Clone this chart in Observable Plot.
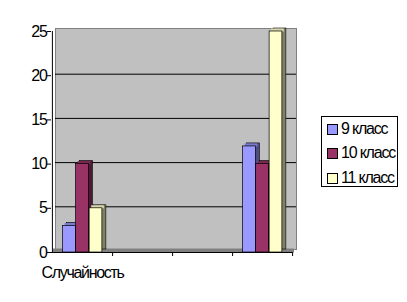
<!DOCTYPE html>
<html><head><meta charset="utf-8">
<script src="https://cdn.jsdelivr.net/npm/d3@7"></script>
<script src="https://cdn.jsdelivr.net/npm/@observablehq/plot@0.6"></script>
<style>
body{margin:0;background:#fff;}
#wrap{position:relative;width:407px;height:302px;font-family:"Liberation Sans",Arial,sans-serif;}
#legend{position:absolute;left:321px;top:116px;width:77px;height:71px;border:1px solid #000;box-sizing:border-box;background:#fff;}
.item{position:absolute;left:5px;font-size:16px;letter-spacing:-1.2px;line-height:16px;color:#000;}
.sw{position:absolute;left:0;top:3px;width:9px;height:9px;border:1px solid #000;}
.item span.t{position:absolute;left:14px;top:0;white-space:nowrap;}
</style></head>
<body><div id="wrap"><div id="legend"></div></div>
<script>
const categories = ["cat1", "cat2", "cat3", "cat4"];
const categoryLabels = ["Случайность", "", "", ""];
const series = ["9 класс", "10 класс", "11 класс"];
const values9 = [3, null, null, 12];
const values10 = [10, null, null, 10];
const values11 = [5, null, null, 25];
const yTicks = [0, 5, 10, 15, 20, 25];
const gridTicks = [5, 10, 15, 20];

const frontColors = ["#9999FF", "#993366", "#FFFFCC"];
const sideColors = ["#4d4d80", "#4d1a33", "#808066"];
const topColors = ["#7a7acc", "#7a2952", "#d6d6aa"];
const offsets = [-13, 0, 13.5];

const allValues = [values9, values10, values11];
const table = series.map((s, si) => categories.map((c, ci) => ({category: c, series: s, value: allValues[si][ci]})));

const barW = 13;
const inset = (60.25 - barW) / 2;

const marks = [
  Plot.frame({fill: "#c0c0c0", stroke: "#808080", insetLeft: 4, insetRight: -4, insetTop: -3, insetBottom: 3}),
  Plot.ruleY(gridTicks, {stroke: "#000", dx: 4, dy: -1.5}),
  Plot.ruleY([0], {stroke: "#808080", strokeWidth: 4, dx: 2, dy: -2}),
  Plot.ruleY([0], {stroke: "#000"}),
  Plot.ruleX([categories[0]], {dx: -30.1, y1: 0, y2: 25, stroke: "#000"})
];
series.forEach((s, si) => {
  const d = table[si];
  marks.push(Plot.barY(d, {x: "category", y: "value", fill: sideColors[si], stroke: "#000", strokeWidth: 0.6, insetLeft: inset, insetRight: inset, dx: offsets[si] + 4, dy: -3}));
  marks.push(Plot.tickY(d, {x: "category", y: "value", stroke: topColors[si], strokeWidth: 3, insetLeft: inset, insetRight: inset, dx: offsets[si] + 2, dy: -1.5}));
  marks.push(Plot.barY(d, {x: "category", y: "value", fill: frontColors[si], stroke: "#000", strokeWidth: 0.7, insetLeft: inset, insetRight: inset, dx: offsets[si]}));
});
marks.push(Plot.axisY({ticks: yTicks, tickSize: 4, tickPadding: 1, fontSize: 16, label: null, tickFormat: d => String(d)}));
marks.push(Plot.axisX({tickSize: 0, tickPadding: 14, fontSize: 16, label: null, tickFormat: (d) => categoryLabels[categories.indexOf(d)]}));
marks.push(Plot.axisX({tickSize: 4, dx: 30.1, label: null, tickFormat: () => ""}));

const chart = Plot.plot({
  width: 407, height: 302,
  marginLeft: 51, marginRight: 115, marginTop: 31, marginBottom: 50,
  style: {fontFamily: "'Liberation Sans', Arial, sans-serif", fontSize: "16px", background: "transparent", color: "#000", letterSpacing: "-1.3px"},
  x: {type: "band", domain: categories, padding: 0},
  y: {domain: [0, 25]},
  marks
});
document.getElementById("wrap").prepend(chart);

const legend = document.getElementById("legend");
const tops = [4, 28, 53];
series.forEach((s, i) => {
  const it = document.createElement("div");
  it.className = "item";
  it.style.top = tops[i] + "px";
  it.innerHTML = `<span class="sw" style="background:${frontColors[i]}"></span><span class="t">${s}</span>`;
  legend.appendChild(it);
});
</script></body></html>
